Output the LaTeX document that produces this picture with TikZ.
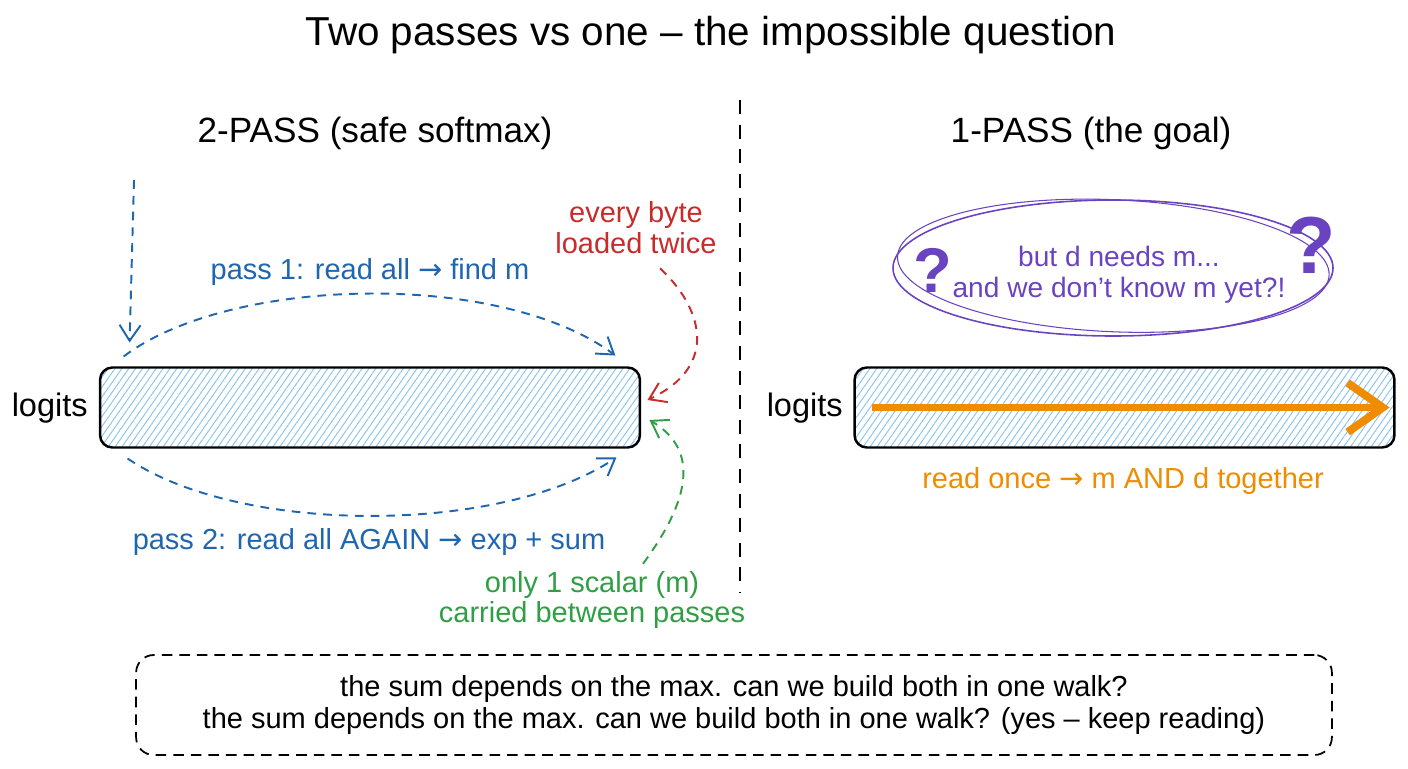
\documentclass[tikz,border=0pt]{standalone}
\usepackage{fontspec}
\setmainfont{Liberation Sans}
\newfontfamily\symfont{DejaVu Sans}
\usetikzlibrary{arrows.meta,patterns.meta,shapes.geometric,calc}
\definecolor{cblue}{HTML}{1F66B0}
\definecolor{cred}{HTML}{C92A2A}
\definecolor{cgreen}{HTML}{2F9E44}
\definecolor{cpurple}{HTML}{6A43C0}
\definecolor{corange}{HTML}{F08C00}
\definecolor{chatch}{HTML}{8CC4F0}
\newcommand{\ra}{{\symfont →}}
\tikzset{
  txt/.style={font=\fontsize{16.5}{17.5}\selectfont, inner sep=0pt, align=center},
  headtxt/.style={font=\fontsize{20}{24}\selectfont, inner sep=0pt},
  lbl/.style={font=\fontsize{18.5}{22}\selectfont, inner sep=0pt},
  bar/.style={draw=black, line width=1.4pt, rounded corners=7pt, minimum width=10.8cm, minimum height=1.6cm, inner sep=0pt,
    pattern={Lines[angle=55,distance=3.2pt,line width=0.55pt]}, pattern color=chatch},
  tipb/.style={-{Straight Barb[length=9pt,width=12pt,line width=1.1pt]}},
  dashline/.style={line width=1.1pt, dash pattern=on 5pt off 4pt},
  divider/.style={line width=1pt, dash pattern=on 8pt off 6pt},
  qm/.style={text=cpurple, inner sep=0pt, font=\bfseries\fontsize{36}{36}\selectfont},
}
\begin{document}
\begin{tikzpicture}[x=0.02cm,y=-0.02cm]
\path[use as bounding box] (0,0) rectangle (1408,768);

% title and headings
\node[font=\fontsize{23}{28}\selectfont, inner sep=0pt] (title) at (711,35) {Two passes vs one – the impossible question};
\node[headtxt] (headL) at (375,133) {2-PASS (safe softmax)};
\node[headtxt] (headR) at (1091,133) {1-PASS (the goal)};

% divider
\coordinate (divTop) at (740,100);
\coordinate (divBot) at (740,592);
\draw[divider] (divTop) -- (divBot);

% bars
\node[bar] (barL) at (370,407.5) {};
\node[bar] (barR) at (1124.5,407.5) {};
\node[lbl, anchor=east] (logL) at (88,408) {logits};
\node[lbl, anchor=east] (logR) at (843,408) {logits};

% left side labels
\node[txt, text=cblue] (p1lab) at (370,272) {pass 1: read all \ra{} find m};
\node[txt, text=cblue] (p2lab) at (369,542) {pass 2: read all AGAIN \ra{} exp + sum};
\node[txt, text=cred] (redlab) at (636,228) {every byte\\loaded twice};
\node[txt, text=cgreen] (greenlab) at (592,600) {only 1 scalar (m)\\carried between passes};

% vertical blue arrow
\coordinate (vtop) at (134,180);
\draw[cblue, dashline, tipb] (vtop) -- ($(barL.north west)+(30,-24.5)$);

% pass 1 arc
\draw[cblue, dashline, tipb] ($(barL.north west)+(24,-10.5)$) .. controls (230,276) and (500,270) .. ($(barL.north east)+(-25,-11.5)$);
% pass 2 arc
\draw[cblue, dashline, tipb] ($(barL.south west)+(28,10.5)$) .. controls (240,535) and (500,535) .. ($(barL.south east)+(-24,9.5)$);

% red arrow
\draw[cred, dashline, tipb] ($(redlab.south)+(24,14)$) .. controls (700,305) and (722,365) .. ($(barL.east)+(7,-7.5)$);
% green arrow
\draw[cgreen, dashline, tipb] ($(greenlab.north)+(51,-7)$) .. controls (690,500) and (700,450) .. ($(barL.east)+(9,12.5)$);

% right side: thought bubble
\node[txt, font=\fontsize{16}{17.5}\selectfont, text=cpurple] (bubble) at (1119,275) {but d needs m...\\and we don't know m yet?!};
\draw[cpurple, line width=0.9pt] ($(bubble.center)+(-6,-7)$) ellipse [x radius=220, y radius=68];
\draw[cpurple, line width=0.6pt, rotate around={-2.5:($(bubble.center)+(-6,-7)$)}] ($(bubble.center)+(-6,-9)$) ellipse [x radius=216, y radius=66];
\node[qm] (q1) at (933,270) {?};
\node[qm, font=\bfseries\fontsize{46}{46}\selectfont] (q2) at (1311,245) {?};

\draw[corange, line width=4.5pt, -{Straight Barb[length=20pt,width=28pt,line width=4.5pt]}] ($(barR.west)+(19,0)$) -- ($(barR.east)+(-6,0)$);
\node[txt, text=corange] (readlab) at (1123,481) {read once \ra{} m AND d together};

% bottom note
\node[draw=black, line width=1pt, dash pattern=on 6pt off 4pt, rounded corners=10pt, minimum width=23.92cm, minimum height=2cm, inner sep=0pt, align=center, font=\fontsize{16.5}{18.7}\selectfont] (note) at (734,705)
  {the sum depends on the max. can we build both in one walk?\\the sum depends on the max. can we build both in one walk? (yes – keep reading)};
\end{tikzpicture}
\end{document}
